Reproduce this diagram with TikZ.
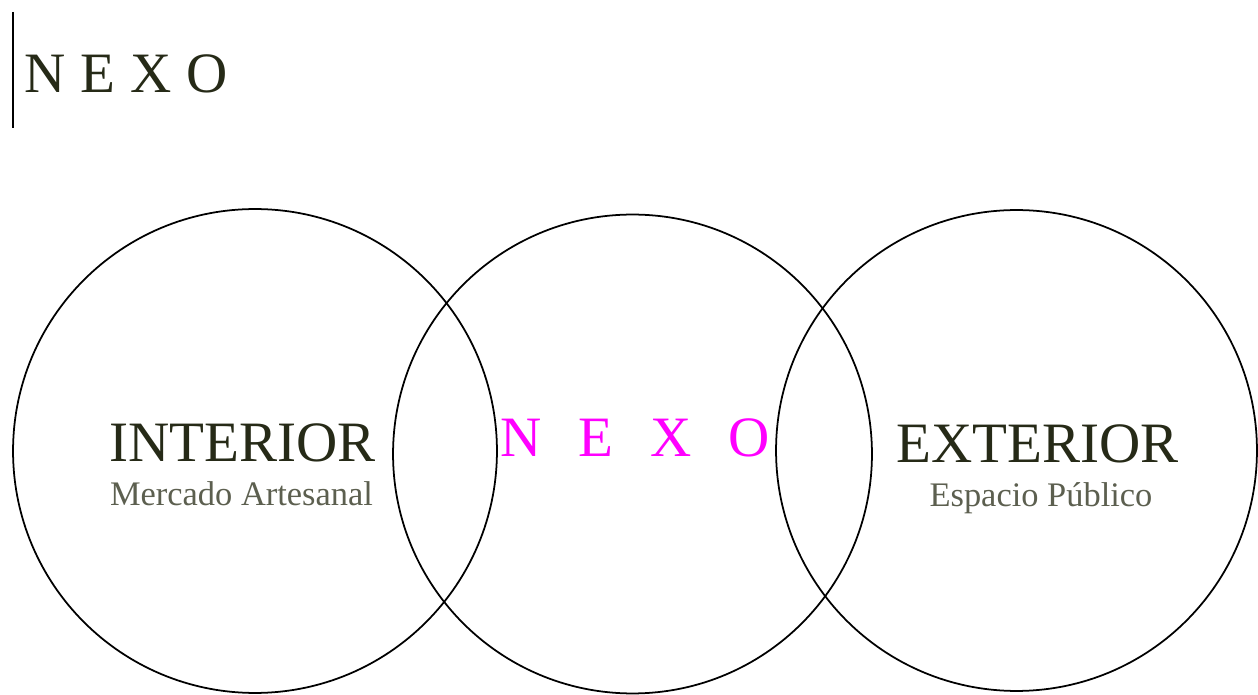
\documentclass[tikz,border=0pt]{standalone}
\usepackage{fontspec}
\setmainfont{Liberation Serif}
\usetikzlibrary{positioning}
\definecolor{nxdark}{HTML}{262A17}
\definecolor{nxgray}{HTML}{5C5F4F}
\definecolor{nxpink}{HTML}{FF00FF}
\tikzset{
  ring/.style={circle,draw=black,fill=none,line width=1pt,minimum size=#1,inner sep=0pt},
  big/.style={font=\fontsize{32.5}{36}\selectfont,text=nxdark,inner sep=0pt},
  sub/.style={font=\fontsize{19.6}{22}\selectfont,text=nxgray,inner sep=0pt},
  bar/.style={draw=black,line width=1.1pt},
}
\begin{document}
\begin{tikzpicture}[x=0.02cm,y=-0.02cm]
\useasboundingbox (0,0) rectangle (1258,695);
% heading with its rule on the left
\coordinate (bt) at (13,12);
\coordinate (bb) at (13,128);
\draw[bar] (bt)--(bb);
\node[big,anchor=base west] (head) at (24,93) {N\hspace{0.3cm}E\hspace{0.3cm}X\hspace{0.3cm}O};
% the three rings
\node[ring=9.68cm] (rin) at (255,451) {};
\node[ring=9.58cm] (rmid) at (632.5,454) {};
\node[ring=9.62cm] (rout) at (1016.5,450.5) {};
% labels
\node[big,anchor=base] (int) at (242.5,462) {INTERIOR};
\node[sub,anchor=base] (intsub) at (241.5,506) {Mercado Artesanal};
\node[big,anchor=base,text=nxpink] (nexo) at (635,457) {N\hspace{0.74cm}E\hspace{0.74cm}X\hspace{0.74cm}O};
\node[big,anchor=base] (ext) at (1037.5,463) {EXTERIOR};
\node[sub,anchor=base] (extsub) at (1041,507) {Espacio Público};
\end{tikzpicture}
\end{document}
